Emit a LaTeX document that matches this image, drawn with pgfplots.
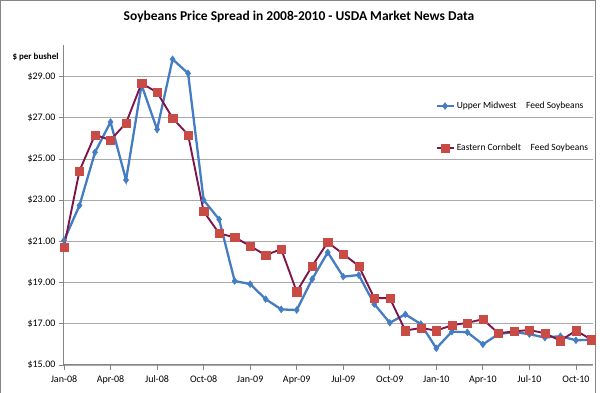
\documentclass[border=0pt]{standalone}
\usepackage{pgfplots}
\pgfplotsset{compat=1.18}
\usepackage{fontspec}
\setmainfont{Carlito}
\definecolor{umblue}{RGB}{69,125,195}
\definecolor{ecline}{RGB}{125,22,75}
\definecolor{ecmark}{RGB}{200,75,70}
\definecolor{gridg}{RGB}{170,170,170}
\definecolor{axg}{RGB}{134,134,134}
\begin{document}
\begin{tikzpicture}[x=1pt,y=1pt]
\useasboundingbox (-64,-28) rectangle (536,365);
\draw[axg,line width=1pt] (-63.5,-30) -- (-63.5,364.5) -- (531.5,364.5) -- (531.5,-30);
\node[font=\bfseries\fontsize{13.5}{16}\selectfont] at (235,348) {Soybeans Price Spread in 2008-2010 - USDA Market News Data};
\node[font=\bfseries\fontsize{9}{11}\selectfont, anchor=west] at (-55,308) {\$ per bushel};
\begin{axis}[
  at={(0,0)}, anchor=south west,
  scale only axis, width=529pt, height=320pt,
  xmin=0, xmax=34.1, ymin=15, ymax=30.54,
  axis x line*=bottom, axis y line*=left,
  axis line style={axg, line width=1pt, -},
  xtick={0,3,...,33},
  xticklabels={Jan-08,Apr-08,Jul-08,Oct-08,Jan-09,Apr-09,Jul-09,Oct-09,Jan-10,Apr-10,Jul-10,Oct-10},
  ytick={15,17,...,29},
  yticklabels={\$15.00,\$17.00,\$19.00,\$21.00,\$23.00,\$25.00,\$27.00,\$29.00},
  tick align=outside, major tick length=5pt,
  tick style={axg, line width=0.8pt},
  ymajorgrids, grid style={gridg, line width=1.1pt},
  ticklabel style={font=\fontsize{10}{12}\selectfont},
  /pgf/number format/assume math mode=true,
  xticklabel style={yshift=-2pt},
  legend style={at={(0.696,0.835)}, anchor=north west, draw=none, fill=none,
    font=\fontsize{9.5}{11}\selectfont, row sep=30pt, cells={anchor=west}},
  legend cell align=left,
  clip=false,
]
\addplot[umblue, line width=2.3pt, mark=diamond*, mark size=3.4pt, mark options={solid, fill=umblue, line width=0.5pt}] coordinates {
(0,21.05) (1,22.75) (2,25.33) (3,26.8) (4,23.98) (5,28.6) (6,26.44) (7,29.85) (8,29.16)
(9,23.01) (10,22.07) (11,19.08) (12,18.93) (13,18.2) (14,17.70) (15,17.67) (16,19.17)
(17,20.47) (18,19.29) (19,19.37) (20,17.96) (21,17.05) (22,17.46) (23,16.99) (24,15.81)
(25,16.62) (26,16.59) (27,16.0) (28,16.5) (29,16.6) (30,16.5) (31,16.33) (32,16.4)
(33,16.2) (34,16.23)};
\addlegendentry{Upper Midwest\quad Feed Soybeans}
\addplot[ecline, line width=1.9pt, mark=square*, mark size=4.1pt, mark options={solid, fill=ecmark, draw=ecmark, line width=0.3pt}] coordinates {
(0,20.74) (1,24.43) (2,26.18) (3,25.92) (4,26.75) (5,28.68) (6,28.24) (7,26.99) (8,26.18)
(9,22.46) (10,21.39) (11,21.2) (12,20.78) (13,20.33) (14,20.63) (15,18.56) (16,19.81)
(17,20.96) (18,20.39) (19,19.81) (20,18.25) (21,18.25) (22,16.67) (23,16.8) (24,16.67)
(25,16.93) (26,17.05) (27,17.22) (28,16.54) (29,16.63) (30,16.70) (31,16.54) (32,16.18)
(33,16.67) (34,16.23)};
\addlegendentry{Eastern Cornbelt\quad Feed Soybeans}
\end{axis}
\end{tikzpicture}
\end{document}
